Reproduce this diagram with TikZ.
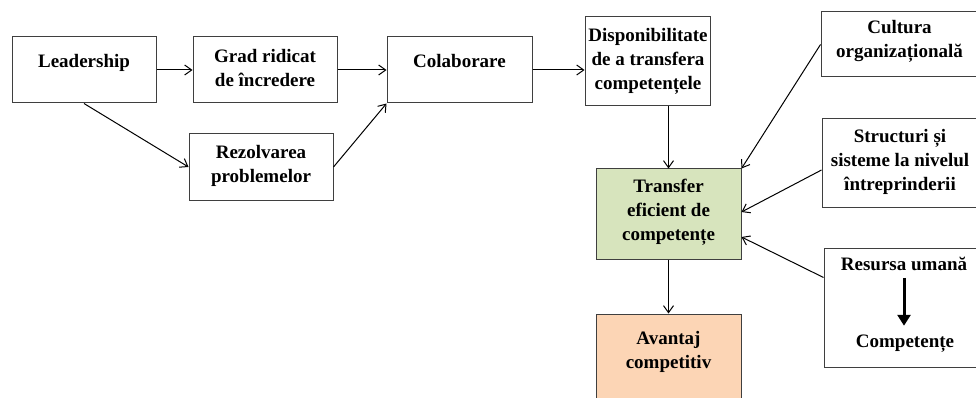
\documentclass[tikz,border=0pt]{standalone}
\usepackage{fontspec}
\setmainfont{Liberation Serif}
\usepackage{tikz}
\usetikzlibrary{arrows.meta}

\definecolor{boxline}{HTML}{3F3F3F}
\definecolor{greenfill}{HTML}{D7E4BD}
\definecolor{orangefill}{HTML}{FCD5B5}

\tikzset{
  boxtext/.style={font=\bfseries\fontsize{19}{24}\selectfont},
  block/.style={boxtext,shape=rectangle,draw=boxline,line width=1pt,align=center},
  link/.style={draw=black,line width=1pt,-{Straight Barb[length=7pt,width=10pt]}},
  bigarrow/.style={draw=black,line width=3pt,-{Triangle[length=11pt,width=13pt]}},
}

\begin{document}
\begin{tikzpicture}[x=1pt,y=-1pt]
  \useasboundingbox (0,0) rectangle (976,398);

  % left chain
  \node[block,minimum width=144pt,minimum height=66pt,text height=10pt,text depth=14pt] (lead) at (84,70) {Leadership};
  \node[block,minimum width=144pt,minimum height=66pt,text depth=5pt] (grad) at (265,70) {Grad ridicat\\de încredere};
  \node[block,minimum width=144pt,minimum height=66pt,text depth=7pt] (rez) at (261,167) {Rezolvarea\\problemelor};
  \node[block,minimum width=145pt,minimum height=66pt,text height=10pt,text depth=14pt] (colab) at (459.5,70) {Colaborare};
  \node[block,minimum width=118pt,minimum height=89pt,text depth=6pt] (disp) at (648,61.5) {Disponibilitate\\de a transfera\\competențele};

  % centre column
  \node[block,fill=greenfill,minimum width=145pt,minimum height=90pt,text depth=9pt] (trans) at (668.5,214) {Transfer\\eficient de\\competențe};
  \node[block,fill=orangefill,minimum width=145pt,minimum height=96pt,text depth=25pt] (avan) at (668.5,362) {Avantaj\\competitiv};

  % right column
  \node[block,minimum width=157pt,minimum height=65pt,text depth=12pt] (cult) at (899.5,44.5) {Cultura\\organizațională};
  \node[block,minimum width=156pt,minimum height=88pt,text depth=7pt] (struct) at (900,163) {Structuri și\\sisteme la nivelul\\întreprinderii};
  \node[block,minimum width=154pt,minimum height=119pt] (res) at (901,307.5) {};
  \node[boxtext] (resa) at (904,263.5) {Resursa umană};
  \node[boxtext] (resb) at (905,344) {Competențe};

  \path (lead) edge[link] (grad);
  \path (grad) edge[link] (colab);
  \path (lead.south) edge[link] (rez.west);
  \path (rez.east) edge[link] (colab.south west);
  \path (colab.east) edge[link] (colab.east -| disp.west);
  \path (trans.north |- disp.south) edge[link] (trans.north);
  \path (cult.west) edge[link] (trans.north east);
  \path ([yshift=-7pt]struct.west) edge[link] ([yshift=2pt]trans.east);
  \path ([yshift=30pt]res.west) edge[link] ([yshift=-23pt]trans.east);
  \path (trans) edge[link] (avan);
  \draw[bigarrow,shorten <=4pt,shorten >=6pt] (resa.south) -- (resa.south |- resb.north);
\end{tikzpicture}
\end{document}
